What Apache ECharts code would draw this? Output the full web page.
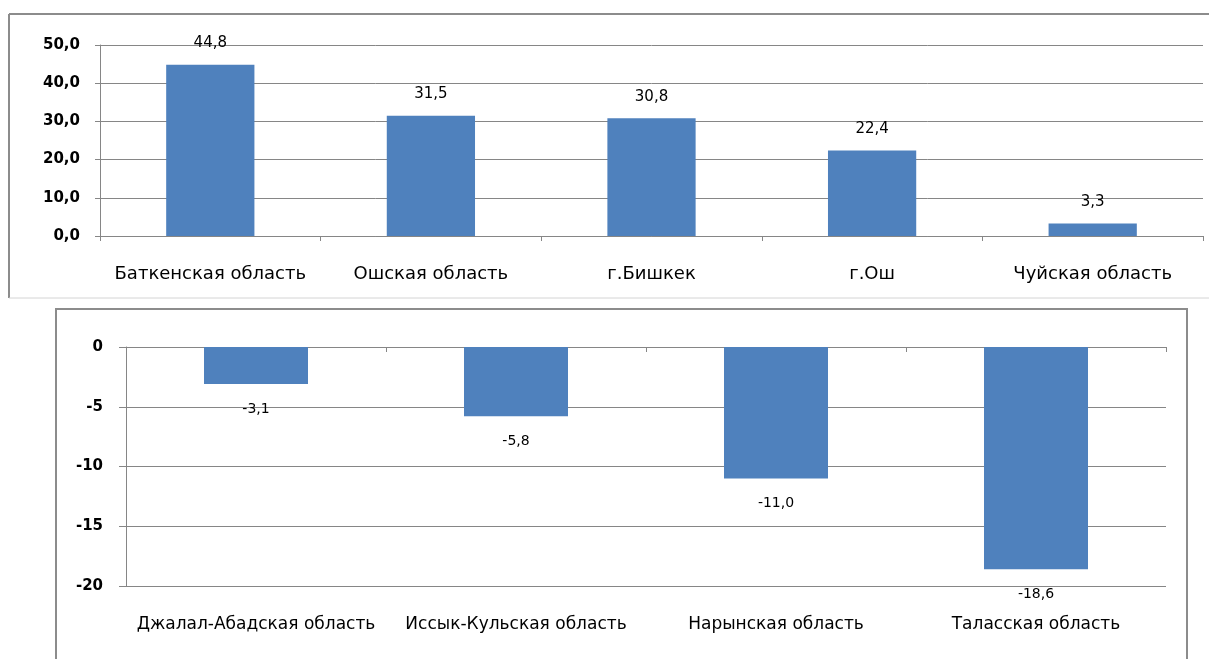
<!DOCTYPE html>
<html>
<head>
<meta charset="utf-8">
<script src="https://cdn.jsdelivr.net/npm/echarts@6/dist/echarts.min.js"></script>
<style>
html,body{margin:0;padding:0;background:#fff;}
#chart{width:1209px;height:659px;}
</style>
</head>
<body>
<div id="chart"></div>
<script>
const topCategories = ['Баткенская область', 'Ошская область', 'г.Бишкек', 'г.Ош', 'Чуйская область'];
const topValues = [44.8, 31.5, 30.8, 22.4, 3.3];
const topTicks = [0, 10, 20, 30, 40, 50];

const bottomCategories = ['Джалал-Абадская область', 'Иссык-Кульская область', 'Нарынская область', 'Таласская область'];
const bottomValues = [-3.1, -5.8, -11.0, -18.6];
const bottomTicks = [-20, -15, -10, -5, 0];

const FONT = 'DejaVu Sans';
const GRAY = '#868686';
const BAR = '#4F81BD';
const comma1 = v => Number(v).toFixed(1).replace('.', ',');

const chart = echarts.init(document.getElementById('chart'));
chart.setOption({
  animation: false,
  backgroundColor: '#fff',
  graphic: [
    {type: 'line', shape: {x1: 9, y1: 14, x2: 1209, y2: 14}, style: {stroke: '#8c8c8c', lineWidth: 2}, z: -1},
    {type: 'line', shape: {x1: 9, y1: 14, x2: 9, y2: 298}, style: {stroke: '#8c8c8c', lineWidth: 2}, z: -1},
    {type: 'line', shape: {x1: 9, y1: 298, x2: 1209, y2: 298}, style: {stroke: '#d4d4d4', lineWidth: 1}, z: -1},
    {type: 'rect', shape: {x: 56, y: 309, width: 1131, height: 400}, style: {stroke: '#8c8c8c', lineWidth: 2, fill: 'transparent'}, z: -1}
  ],
  grid: [
    {left: 100, right: 6, top: 45, height: 191},
    {left: 126, right: 43, top: 347, height: 239}
  ],
  xAxis: [
    {
      type: 'category', gridIndex: 0, data: topCategories,
      axisLine: {lineStyle: {color: GRAY}},
      axisTick: {show: true, interval: 0, length: 5, lineStyle: {color: GRAY}},
      axisLabel: {interval: 0, margin: 29, color: '#000', fontFamily: FONT, fontSize: 18}
    },
    {
      type: 'category', gridIndex: 1, data: bottomCategories, position: 'bottom',
      axisLine: {show: false, onZero: false},
      axisTick: {show: false},
      axisLabel: {interval: 0, margin: 30, color: '#000', fontFamily: FONT, fontSize: 17}
    },
    {
      type: 'category', gridIndex: 1, data: bottomCategories, position: 'top',
      axisLine: {show: true, onZero: false, lineStyle: {color: GRAY}},
      axisTick: {show: true, interval: 0, inside: true, length: 5, lineStyle: {color: GRAY}},
      axisLabel: {show: false}
    }
  ],
  yAxis: [
    {
      type: 'value', gridIndex: 0, min: topTicks[0], max: topTicks[topTicks.length - 1], interval: 10,
      axisLine: {show: true, lineStyle: {color: GRAY}},
      axisTick: {show: true, length: 5, lineStyle: {color: GRAY}},
      splitLine: {lineStyle: {color: GRAY}},
      axisLabel: {margin: 20, color: '#000', fontFamily: FONT, fontSize: 15, fontWeight: 'bold', formatter: v => comma1(v)}
    },
    {
      type: 'value', gridIndex: 1, min: bottomTicks[0], max: bottomTicks[bottomTicks.length - 1], interval: 5,
      axisLine: {show: true, lineStyle: {color: GRAY}},
      axisTick: {show: true, length: 7, lineStyle: {color: GRAY}},
      splitLine: {lineStyle: {color: GRAY}},
      axisLabel: {margin: 23, color: '#000', fontFamily: FONT, fontSize: 15, fontWeight: 'bold', formatter: v => String(v)}
    }
  ],
  series: [
    {
      type: 'bar', xAxisIndex: 0, yAxisIndex: 0, data: topValues, barWidth: '40%',
      itemStyle: {color: BAR},
      label: {show: true, position: 'top', distance: 14, color: '#000', fontFamily: FONT, fontSize: 15, formatter: p => comma1(p.value)}
    },
    {
      type: 'bar', xAxisIndex: 1, yAxisIndex: 1, data: bottomValues, barWidth: '40%',
      itemStyle: {color: BAR},
      label: {show: true, position: 'bottom', distance: 18, color: '#000', fontFamily: FONT, fontSize: 14, formatter: p => comma1(p.value)}
    }
  ]
});
</script>
</body>
</html>
